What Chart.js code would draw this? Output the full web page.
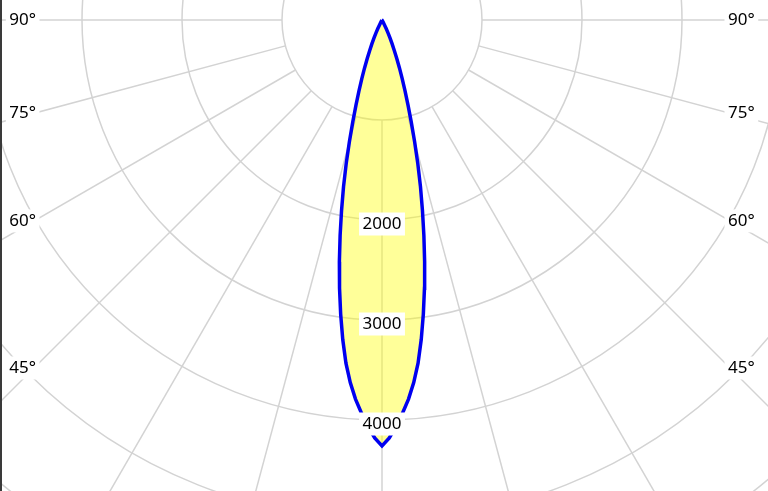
<!DOCTYPE html>
<html>
<head>
<meta charset="utf-8">
<script src="https://cdn.jsdelivr.net/npm/chart.js@4.4.0/dist/chart.umd.min.js"></script>
<style>
  html, body { margin: 0; padding: 0; background: #fff; }
  #wrap { position: relative; width: 768px; height: 491px; }
  #wrap:before { content: ''; position: absolute; left: 0; top: 0; width: 2px; height: 491px; background: #3a3a3a; z-index: 2; }
</style>
</head>
<body>
<div id="wrap"><canvas id="ldc"></canvas></div>
<script>
// luminous intensity (cd) against angle from the downward vertical (deg)
const angleDeg = [0, 1, 2, 3, 4, 5, 6, 7, 8, 9, 10, 11, 12, 13, 14, 15, 16, 17, 18, 19,
    20, 21, 22, 23, 24, 25, 26, 27, 28, 29, 30, 45, 60, 75, 90];
const candela = [4260, 4180, 4065, 3935, 3800, 3640, 3450, 3220, 2970, 2715, 2455, 2195, 1945, 1710, 1480, 1260, 1060, 890, 745, 620,
    510, 412, 328, 257, 196, 142, 95, 55, 24, 5, 0, 0, 0, 0, 0];

const ringValues = [1000, 2000, 3000, 4000, 5000, 6000];
const ringLabels = [2000, 3000, 4000, 5000];
const spokeAngles = [-90, -75, -60, -45, -30, -15, 0, 15, 30, 45, 60, 75, 90];
const angleLabels = [90, 75, 60, 45];

const gridColor = '#d3d3d3';
const labelFont = '17px "Noto Sans", sans-serif';

// left half (mirrored) then right half, start and end at the centre
const curve = [];
for (let i = angleDeg.length - 1; i > 0; i--) {
    const a = angleDeg[i] * Math.PI / 180;
    curve.push({ x: -candela[i] * Math.sin(a), y: -candela[i] * Math.cos(a) });
}
for (let i = 0; i < angleDeg.length; i++) {
    const a = angleDeg[i] * Math.PI / 180;
    curve.push({ x: candela[i] * Math.sin(a), y: -candela[i] * Math.cos(a) });
}

function backdropText(ctx, text, px, py, align) {
    const w = ctx.measureText(text).width;
    let left = px;
    if (align === 'center') left = px - w / 2;
    if (align === 'right') left = px - w;
    ctx.fillStyle = '#fff';
    ctx.fillRect(left - 3.5, py - 11.5, w + 7, 23);
    ctx.fillStyle = '#000';
    ctx.textAlign = align;
    ctx.fillText(text, px, py);
}

const polarGrid = {
    id: 'polarGrid',
    beforeDatasetsDraw(chart) {
        const { ctx, scales: { x, y } } = chart;
        const cx = x.getPixelForValue(0), cy = y.getPixelForValue(0);
        ctx.save();
        ctx.strokeStyle = gridColor;
        ctx.lineWidth = 1.5;
        ringValues.forEach(v => {
            ctx.beginPath();
            ctx.arc(cx, cy, x.getPixelForValue(v) - cx, 0, 2 * Math.PI);
            ctx.stroke();
        });
        spokeAngles.forEach(deg => {
            const a = deg * Math.PI / 180;
            const r0 = ringValues[0], r1 = 12000;
            ctx.beginPath();
            ctx.moveTo(x.getPixelForValue(r0 * Math.sin(a)), y.getPixelForValue(-r0 * Math.cos(a)));
            ctx.lineTo(x.getPixelForValue(r1 * Math.sin(a)), y.getPixelForValue(-r1 * Math.cos(a)));
            ctx.stroke();
        });
        ctx.restore();
    },
    afterDatasetsDraw(chart) {
        const { ctx, scales: { x, y } } = chart;
        ctx.save();
        ctx.font = labelFont;
        ctx.textBaseline = 'middle';
        ringLabels.forEach(v => {
            backdropText(ctx, String(v), x.getPixelForValue(0), y.getPixelForValue(-v) + 4, 'center');
        });
        const d = 3480;
        angleLabels.forEach(deg => {
            const off = d * Math.tan((90 - deg) * Math.PI / 180);
            const py = y.getPixelForValue(-off);
            backdropText(ctx, deg + '°', x.getPixelForValue(-d) + 2, py, 'right');
            backdropText(ctx, deg + '°', x.getPixelForValue(d) - 2, py, 'left');
        });
        ctx.restore();
    }
};

new Chart(document.getElementById('ldc'), {
    type: 'scatter',
    data: {
        datasets: [{
            label: 'I (cd)',
            data: curve,
            showLine: true,
            fill: 'shape',
            backgroundColor: 'rgba(255, 255, 0, 0.4)',
            borderColor: '#0000f0',
            borderWidth: 3.5,
            pointRadius: 0,
            tension: 0
        }]
    },
    options: {
        responsive: true,
        maintainAspectRatio: false,
        animation: false,
        layout: { padding: 0 },
        plugins: { legend: { display: false }, tooltip: { enabled: false } },
        scales: {
            x: { type: 'linear', display: false, min: -3820, max: 3860 },
            y: { type: 'linear', display: false, min: -4710, max: 200 }
        }
    },
    plugins: [polarGrid]
});
</script>
</body>
</html>
